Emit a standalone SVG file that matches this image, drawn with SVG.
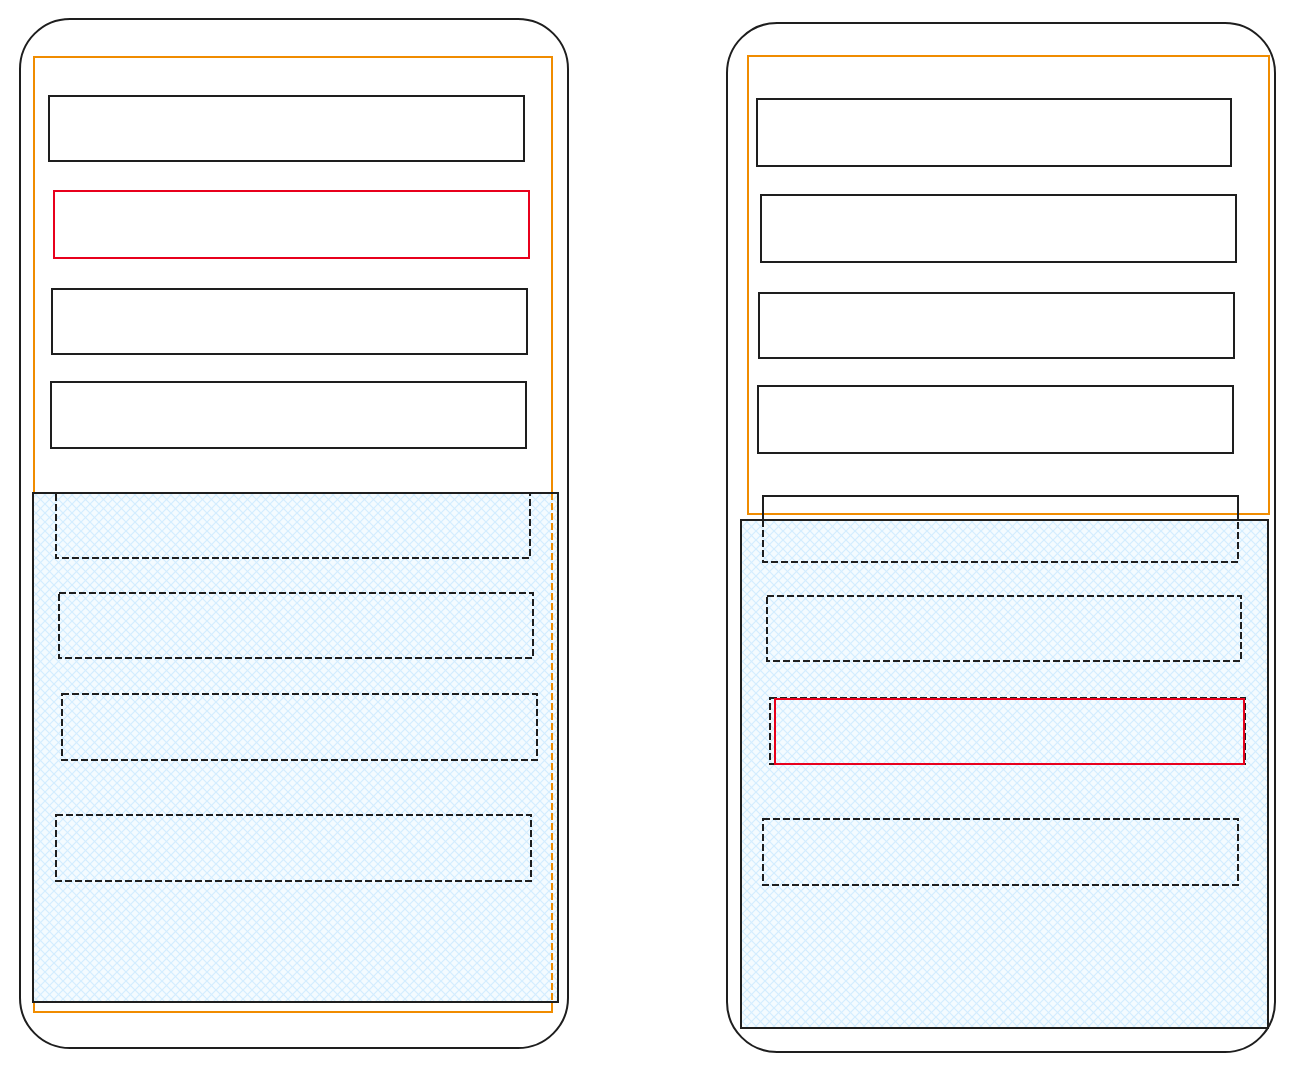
<svg xmlns="http://www.w3.org/2000/svg" width="1295" height="1071" viewBox="0 0 1295 1071">
<defs>
<pattern id="hatch" width="9" height="9" patternUnits="userSpaceOnUse">
<rect width="9" height="9" fill="#f4fbff"/>
<path d="M0 9 L9 0 M-2 2 L2 -2 M7 11 L11 7" stroke="#d3edff" stroke-width="1.2"/>
<path d="M0 0 L9 9 M-2 7 L2 11 M7 -2 L11 2" stroke="#d3edff" stroke-width="1.2"/>
</pattern>
<style>
.frame{fill:#fff;stroke:#1e1e1e;stroke-width:2}
.orange{fill:none;stroke:#f08c00;stroke-width:2}
.box{fill:#fff;stroke:#1e1e1e;stroke-width:2}
.red{fill:none;stroke:#e8001c;stroke-width:2}
.area{fill:url(#hatch);stroke:none}
.areaEdge{fill:none;stroke:#1e1e1e;stroke-width:2}
.dash{fill:none;stroke:#1e1e1e;stroke-width:2;stroke-dasharray:7 3}
.orangeDash{fill:none;stroke:#f08c00;stroke-width:2;stroke-dasharray:7 3}
</style>
</defs>

<g id="phone-left">
<rect class="frame" x="20" y="19" width="548" height="1029" rx="50"/>
<rect class="orange" x="34" y="57" width="518" height="955"/>
<g id="left-item-1"><rect class="box" x="49" y="96" width="475" height="65"/></g>
<g id="left-item-2"><rect class="red" x="54" y="191" width="475" height="67"/></g>
<g id="left-item-3"><rect class="box" x="52" y="289" width="475" height="65"/></g>
<g id="left-item-4"><rect class="box" x="51" y="382" width="475" height="66"/></g>
<g id="left-area">
<rect class="area" x="33" y="493" width="525" height="509"/>
<line class="orangeDash" x1="552" y1="493" x2="552" y2="1002"/>
<rect class="dash" x="56" y="493" width="474" height="65"/>
<rect class="dash" x="59" y="593" width="474" height="65"/>
<rect class="dash" x="62" y="694" width="475" height="66"/>
<rect class="dash" x="56" y="815" width="475" height="66"/>
<rect class="areaEdge" x="33" y="493" width="525" height="509"/>
</g>
</g>

<g id="phone-right">
<rect class="frame" x="727" y="23" width="548" height="1029" rx="50"/>
<rect class="orange" x="748" y="56" width="521" height="458"/>
<g id="right-item-1"><rect class="box" x="757" y="99" width="474" height="67"/></g>
<g id="right-item-2"><rect class="box" x="761" y="195" width="475" height="67"/></g>
<g id="right-item-3"><rect class="box" x="759" y="293" width="475" height="65"/></g>
<g id="right-item-4"><rect class="box" x="758" y="386" width="475" height="67"/></g>
<g id="right-item-5"><path d="M763 520 L763 496 L1238 496 L1238 520" fill="none" stroke="#1e1e1e" stroke-width="2"/></g>
<g id="right-area">
<rect class="area" x="741" y="520" width="527" height="508"/>
<path class="dash" d="M763 520 L763 562 L1238 562 L1238 520"/>
<rect class="dash" x="767" y="596" width="474" height="65"/>
<rect class="dash" x="770" y="698" width="475" height="66"/>
<rect class="dash" x="763" y="819" width="475" height="66"/>
<rect class="areaEdge" x="741" y="520" width="527" height="508"/>
</g>
<g id="right-highlight"><rect class="red" x="775" y="699" width="469" height="65"/></g>
</g>
</svg>
